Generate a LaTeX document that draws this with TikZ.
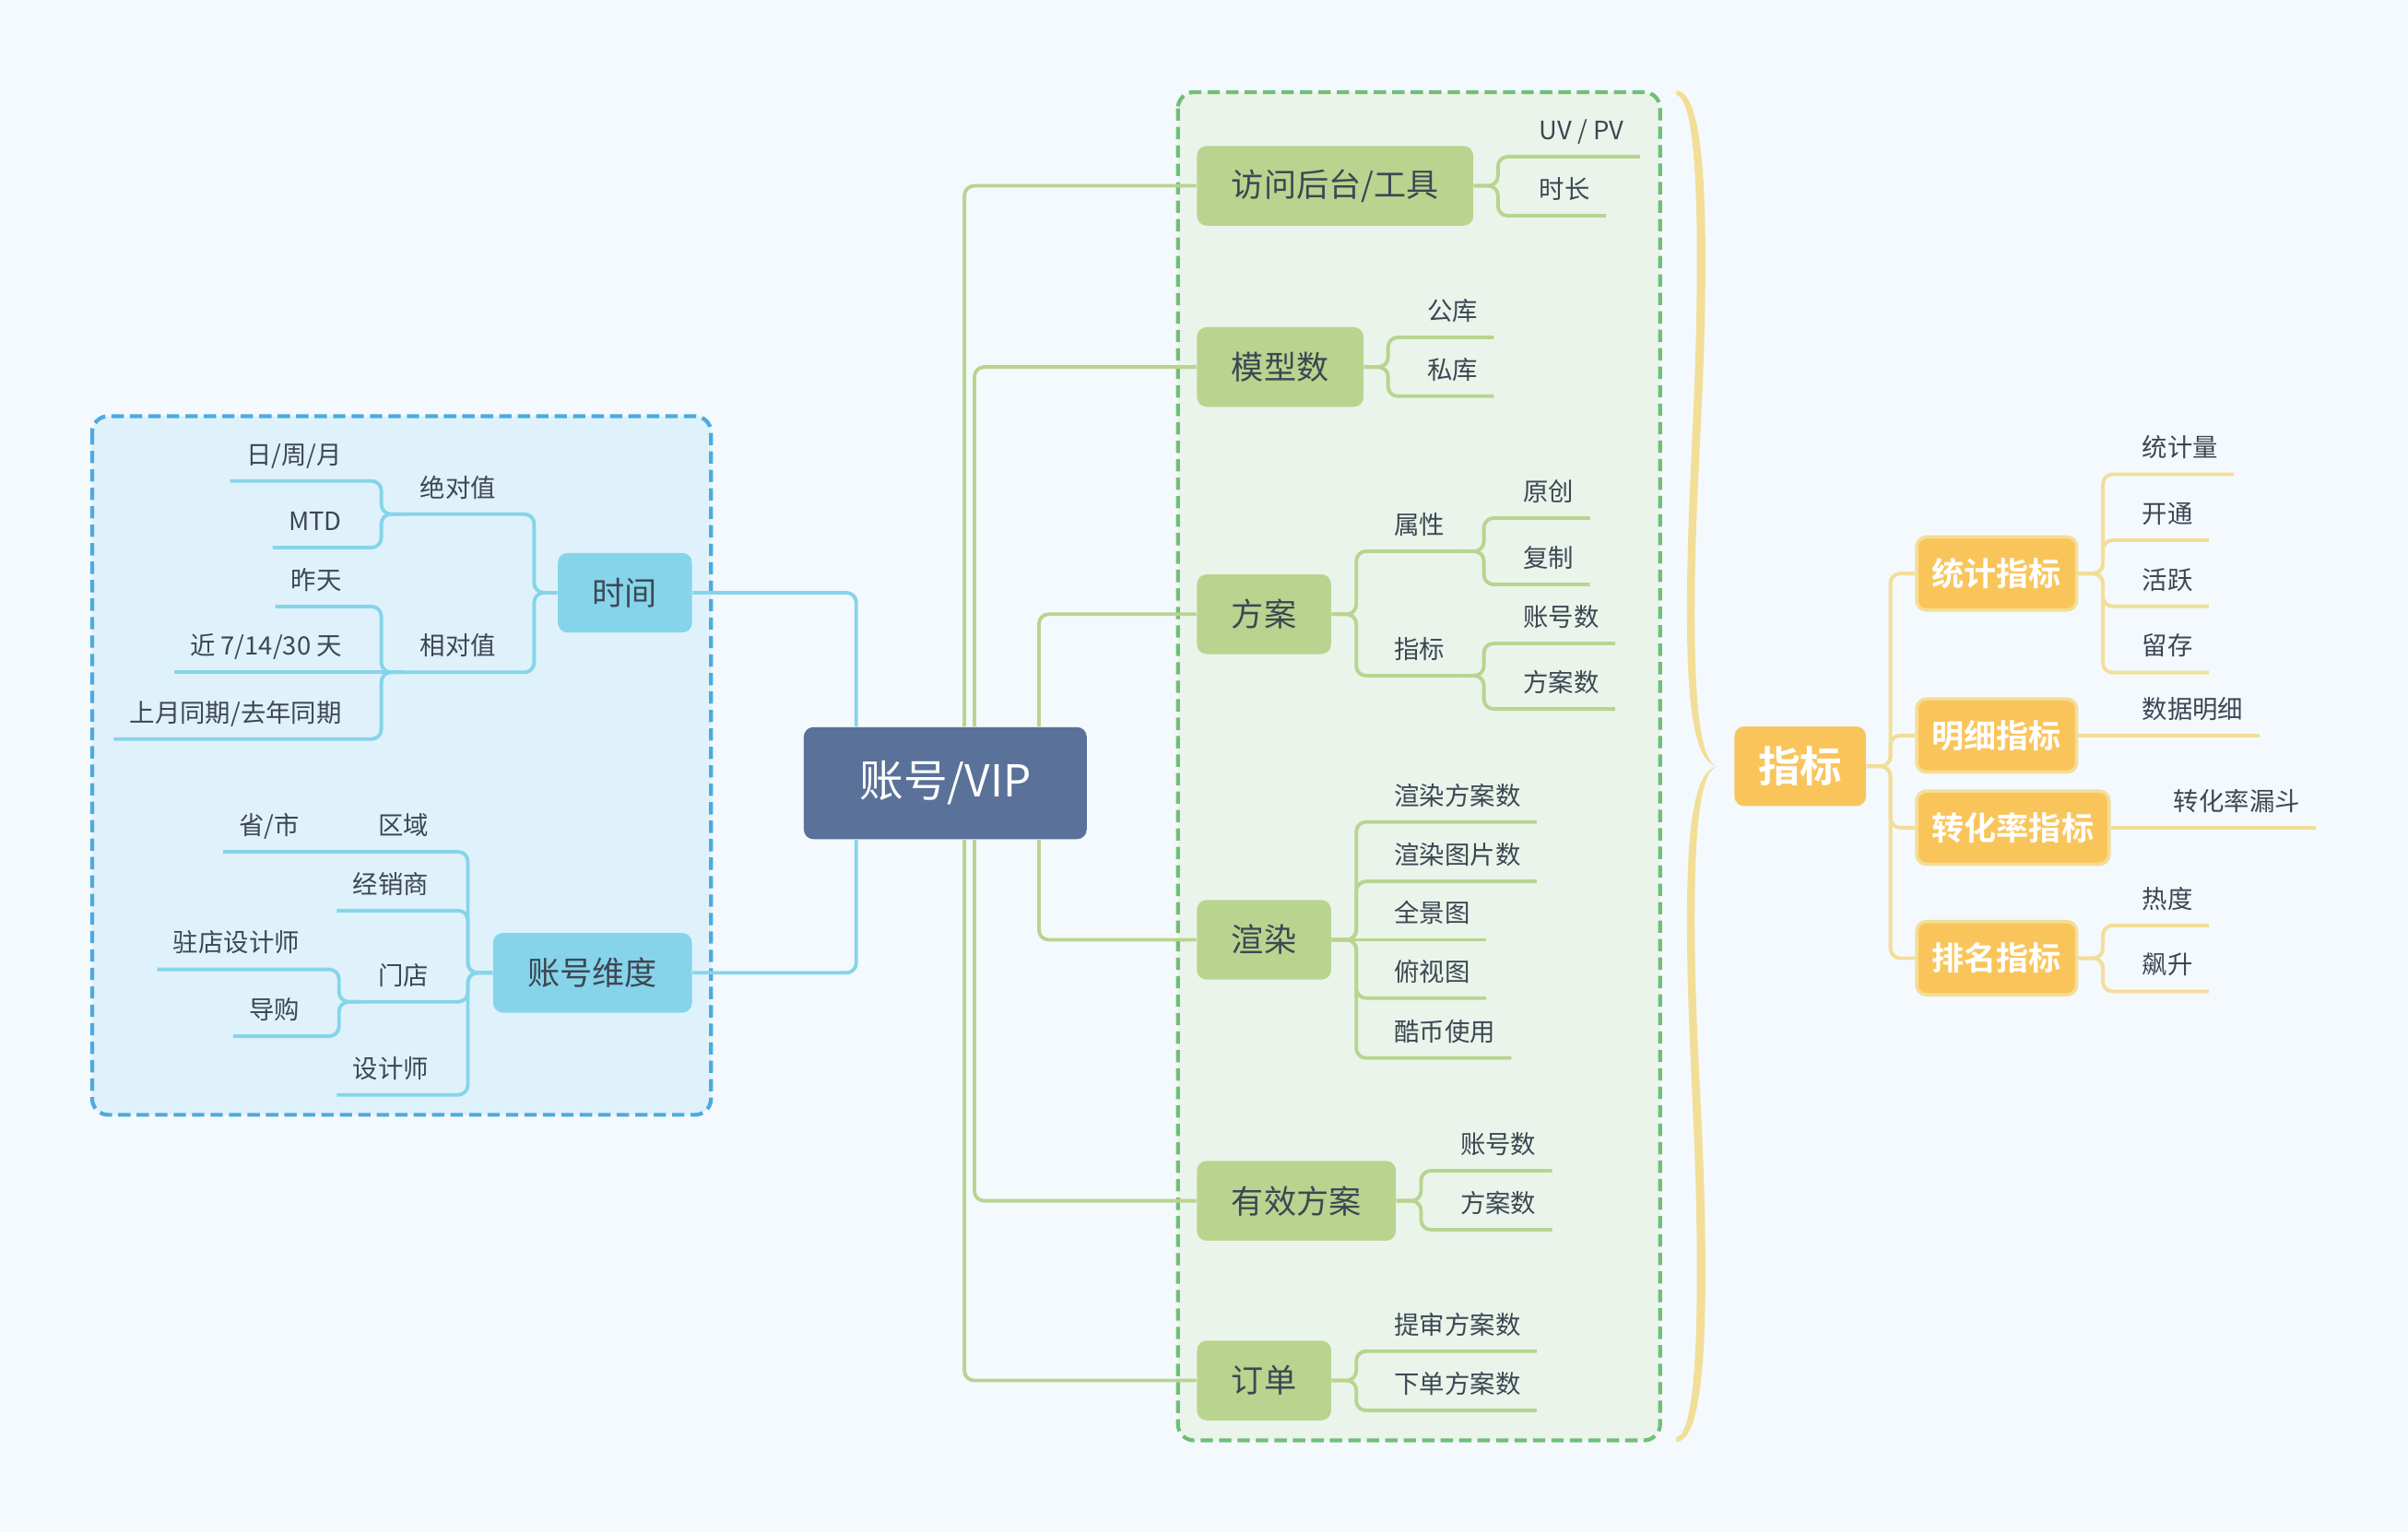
\documentclass[tikz,border=0pt]{standalone}
\usepackage{fontspec}
\setmainfont{Noto Sans CJK SC}[BoldFont={Noto Sans CJK SC Bold}]
\usetikzlibrary{calc}

\definecolor{bgcol}{HTML}{F4F9FD}
\definecolor{txtcol}{HTML}{3D4753}
\definecolor{vipcol}{HTML}{5A7199}
\definecolor{bluecol}{HTML}{86D4EA}
\definecolor{blueback}{HTML}{DFF2FB}
\definecolor{blueedge}{HTML}{4DAADF}
\definecolor{greencol}{HTML}{B8D48F}
\definecolor{greenback}{HTML}{EAF4EA}
\definecolor{greenedge}{HTML}{6FBF77}
\definecolor{orangecol}{HTML}{F9C55B}
\definecolor{orangeline}{HTML}{F3DE98}

\tikzset{
  vipbox/.style={fill=vipcol, text=white, rounded corners=3pt, minimum height=34.6pt,
    inner xsep=17.2pt, inner ysep=0pt, font=\fontsize{13.6pt}{16pt}\selectfont},
  topic/.style={rounded corners=3pt, minimum height=24.6pt, inner xsep=10.7pt,
    inner ysep=0pt, text=txtcol, font=\fontsize{10pt}{12pt}\selectfont},
  gtopic/.style={topic, fill=greencol, anchor=west},
  btopic/.style={topic, fill=bluecol, anchor=east},
  zbox/.style={fill=orangecol, text=white, rounded corners=3pt, minimum height=24.6pt,
    inner xsep=7.3pt, inner ysep=0pt, anchor=west, font=\fontsize{13pt}{15pt}\selectfont\bfseries},
  obox/.style={fill=orangecol, draw=orangeline, line width=1pt, text=white, rounded corners=3pt,
    minimum height=22.6pt, inner xsep=4.7pt, inner ysep=0pt, anchor=west,
    font=\fontsize{10pt}{12pt}\selectfont\bfseries},
  leaf/.style={text=txtcol, inner xsep=4.74pt, inner ysep=0pt, text height=7pt, text depth=5.1pt,
    font=\fontsize{7.8pt}{9pt}\selectfont},
  rleaf/.style={leaf, anchor=south west},
  lleaf/.style={leaf, anchor=south east},
  bline/.style={draw=bluecol, line width=1.1pt, rounded corners=3pt},
  gline/.style={draw=greencol, line width=1.1pt, rounded corners=3pt},
  oline/.style={draw=orangeline, line width=1.1pt, rounded corners=3pt},
}

\begin{document}
\begin{tikzpicture}[x=0.016658cm, y=-0.016658cm]
  \useasboundingbox (0,0) rectangle (1568,998);
  \fill[bgcol] (0,0) rectangle (1568,998);

  % groups
  \draw[blueedge, fill=blueback, line width=1.2pt, dash pattern=on 3.8pt off 1.9pt,
    rounded corners=5pt] (60,271) rectangle (463,726);
  \draw[greenedge, fill=greenback, line width=1.2pt, dash pattern=on 3.8pt off 1.9pt,
    rounded corners=5pt] (767,60) rectangle (1081,938);

  % brace
  \foreach \s in {1,-1}{
    \begin{scope}[shift={(0,499)}, yscale=\s]
      \fill[orangeline] (1091.5,-440) .. controls (1105,-440) and (1110.5,-400) .. (1110.5,-330)
        .. controls (1110.5,-240) and (1103.5,-180) .. (1103.5,-100)
        .. controls (1103.5,-35) and (1108,-3) .. (1118,0)
        .. controls (1104,-3) and (1098.5,-35) .. (1098.5,-100)
        .. controls (1098.5,-180) and (1105,-240) .. (1105,-330)
        .. controls (1105,-395) and (1101,-436) .. (1091.5,-437) -- cycle;
    \end{scope}
  }

  % centre
  \node[vipbox] (vip) at (615.5,510) {账号/VIP};

  % left topics
  \node[btopic] (shijian) at (451,386) {时间};
  \node[btopic] (weidu) at (451,633.5) {账号维度};

  \node[lleaf] (juedui) at (333.5,334.8) {绝对值};
  \node[lleaf] (xiangdui) at (333.5,437.8) {相对值};
  \node[lleaf] (rizhouyue) at (233,313.2) {日/周/月};
  \node[lleaf] (mtd) at (233,356.6) {MTD};
  \node[lleaf] (zuotian) at (233,395) {昨天};
  \node[lleaf] (jinqi) at (233,437.8) {近 7/14/30 天};
  \node[lleaf] (tongqi) at (233,481.3) {上月同期/去年同期};

  \node[lleaf] (quyu) at (289.5,554.7) {区域};
  \node[lleaf] (jingxiao) at (289.5,593) {经销商};
  \node[lleaf] (mendian) at (289.5,652.4) {门店};
  \node[lleaf] (shejishi) at (289.5,713) {设计师};
  \node[lleaf] (shengshi) at (205.5,554.7) {省/市};
  \node[lleaf] (zhudian) at (205.5,631.3) {驻店设计师};
  \node[lleaf] (daogou) at (205.5,674.8) {导购};

  % right topics
  \node[gtopic] (fangwen) at (779,121) {访问后台/工具};
  \node[gtopic] (moxing) at (779,239) {模型数};
  \node[gtopic] (fangan) at (779,400) {方案};
  \node[gtopic] (xuanran) at (779,612) {渲染};
  \node[gtopic] (youxiao) at (779,782) {有效方案};
  \node[gtopic] (dingdan) at (779,899) {订单};

  \node[rleaf] (uvpv) at (992,102) {UV / PV};
  \node[rleaf] (shichang) at (992,140.5) {时长};
  \node[rleaf] (gongku) at (919,219.7) {公库};
  \node[rleaf] (siku) at (919,258) {私库};
  \node[rleaf] (shuxing) at (897.5,359) {属性};
  \node[rleaf] (zhibiaoa) at (897.5,440) {指标};
  \node[rleaf] (yuanchuang) at (981.5,337.4) {原创};
  \node[rleaf] (fuzhi) at (981.5,380.6) {复制};
  \node[rleaf] (zhanghaoa) at (981.5,419) {账号数};
  \node[rleaf] (fangana) at (981.5,461.7) {方案数};
  \node[rleaf] (xrfangan) at (897.5,535.3) {渲染方案数};
  \node[rleaf] (xrtupian) at (897.5,574) {渲染图片数};
  \node[rleaf] (quanjing) at (897.5,612) {全景图};
  \node[rleaf] (fushi) at (897.5,650) {俯视图};
  \node[rleaf] (kubi) at (897.5,689) {酷币使用};
  \node[rleaf] (zhanghaob) at (940.5,762.4) {账号数};
  \node[rleaf] (fanganb) at (940.5,800.8) {方案数};
  \node[rleaf] (tishen) at (897.5,879.9) {提审方案数};
  \node[rleaf] (xiadan) at (897.5,918.5) {下单方案数};

  % indicators
  \node[zbox] (zhibiao) at (1129,499) {指标};
  \node[obox] (tongji) at (1247,373.5) {统计指标};
  \node[obox] (mingxi) at (1247,479) {明细指标};
  \node[obox] (zhuanhua) at (1247,539) {转化率指标};
  \node[obox] (paiming) at (1247,624) {排名指标};

  \node[rleaf] (tongjiliang) at (1384.5,308.9) {统计量};
  \node[rleaf] (kaitong) at (1384.5,351.8) {开通};
  \node[rleaf] (huoyue) at (1384.5,394.8) {活跃};
  \node[rleaf] (liucun) at (1384.5,438) {留存};
  \node[rleaf] (shuju) at (1384.5,479) {数据明细};
  \node[rleaf] (loudou) at (1405,539) {转化率漏斗};
  \node[rleaf] (redu) at (1384.5,602.7) {热度};
  \node[rleaf] (biaosheng) at (1384.5,645.6) {飙升};

  % connectors from the centre
  \draw[bline] (shijian.east) -| ($(vip.north)+(-58,0)$);
  \draw[bline] (weidu.east) -| ($(vip.south)+(-58,0)$);
  \draw[gline] (fangwen.west) -| ($(vip.north)+(12.5,0)$);
  \draw[gline] (moxing.west) -| ($(vip.north)+(19,0)$);
  \draw[gline] (fangan.west) -| ($(vip.north)+(61,0)$);
  \draw[gline] (xuanran.west) -| ($(vip.south)+(61,0)$);
  \draw[gline] (youxiao.west) -| ($(vip.south)+(19,0)$);
  \draw[gline] (dingdan.west) -| ($(vip.south)+(12.5,0)$);

  % left branches
  \foreach \n in {juedui,xiangdui}
    \draw[bline] (shijian.west) -- ++(-15,0) |- (\n.south west);
  \foreach \n in {rizhouyue,mtd}
    \draw[bline] (juedui.south west) -- ++(-15,0) |- (\n.south west);
  \foreach \n in {zuotian,tongqi}
    \draw[bline] (xiangdui.south west) -- ++(-15,0) |- (\n.south west);
  \draw[bline] (xiangdui.south west) -- (jinqi.south west);
  \foreach \n in {quyu,jingxiao,mendian,shejishi}
    \draw[bline] (weidu.west) -- ++(-16,0) |- (\n.south west);
  \draw[bline] (quyu.south west) -- (shengshi.south west);
  \foreach \n in {zhudian,daogou}
    \draw[bline] (mendian.south west) -- ++(-15,0) |- (\n.south west);

  % right branches
  \foreach \n in {uvpv,shichang}
    \draw[gline] (fangwen.east) -- ++(15.6,0) |- (\n.south east);
  \foreach \n in {gongku,siku}
    \draw[gline] (moxing.east) -- ++(15.6,0) |- (\n.south east);
  \foreach \n in {shuxing,zhibiaoa}
    \draw[gline] (fangan.east) -- ++(16,0) |- (\n.south east);
  \foreach \n in {yuanchuang,fuzhi}
    \draw[gline] (shuxing.south east) -- ++(15,0) |- (\n.south east);
  \foreach \n in {zhanghaoa,fangana}
    \draw[gline] (zhibiaoa.south east) -- ++(15,0) |- (\n.south east);
  \foreach \n in {xrfangan,xrtupian,fushi,kubi}
    \draw[gline] (xuanran.east) -- ++(16,0) |- (\n.south east);
  \draw[gline] (xuanran.east) -- (quanjing.south east);
  \foreach \n in {zhanghaob,fanganb}
    \draw[gline] (youxiao.east) -- ++(16,0) |- (\n.south east);
  \foreach \n in {tishen,xiadan}
    \draw[gline] (dingdan.east) -- ++(16,0) |- (\n.south east);

  % indicator branches
  \foreach \n in {tongji,mingxi,zhuanhua,paiming}
    \draw[oline] (zhibiao.east) -- ++(15.5,0) |- (\n.west);
  \foreach \n in {tongjiliang,kaitong,huoyue,liucun}
    \draw[oline] (tongji.east) -- ++(16,0) |- (\n.south east);
  \draw[oline] (mingxi.east) -- (shuju.south east);
  \draw[oline] (zhuanhua.east) -- (loudou.south east);
  \foreach \n in {redu,biaosheng}
    \draw[oline] (paiming.east) -- ++(16,0) |- (\n.south east);
\end{tikzpicture}
\end{document}
